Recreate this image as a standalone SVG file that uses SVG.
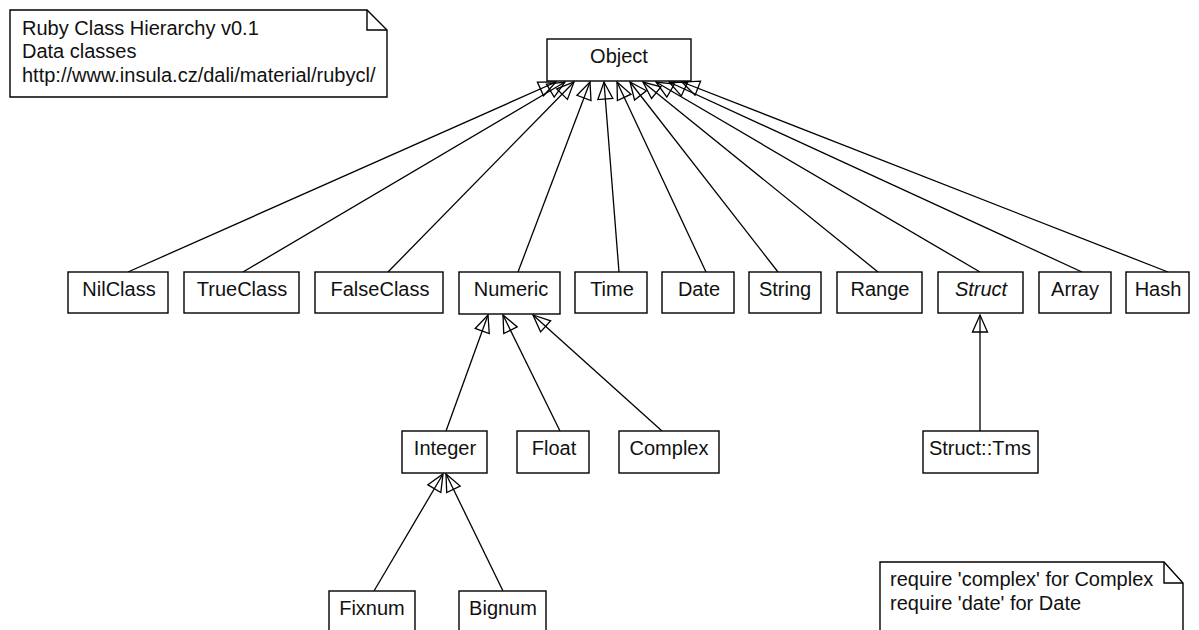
<svg xmlns="http://www.w3.org/2000/svg" width="1199" height="630" viewBox="0 0 1199 630">
<style>
.box{fill:#fff;stroke:#000;stroke-width:1.4}
.t{font-family:"Liberation Sans",Arial,sans-serif;font-size:20px;fill:#111;text-anchor:middle}
.nt{font-family:"Liberation Sans",Arial,sans-serif;font-size:20px;fill:#111}
.c line{stroke:#000;stroke-width:1.3;fill:none;marker-end:url(#gen)}
</style>
<defs>
<marker id="gen" markerUnits="userSpaceOnUse" markerWidth="20" markerHeight="18" refX="17" refY="7.5" orient="auto" overflow="visible">
<path d="M0,0 L17,7.5 L0,15 Z" fill="none" stroke="#000" stroke-width="1.3"/>
</marker>
</defs>
<rect width="1199" height="630" fill="#fff"/>
<g id="note1">
<path class="box" d="M10,10 H367 L387,30 V97 H10 Z"/>
<path d="M367,10 V30 H387" fill="none" stroke="#000" stroke-width="1.4"/>
<text class="nt" x="22" y="34.5">Ruby Class Hierarchy v0.1</text>
<text class="nt" x="22" y="58">Data classes</text>
<text class="nt" x="22" y="81.5">http://www.insula.cz/dali/material/rubycl/</text>
</g>
<g id="note2">
<path class="box" d="M880,562 H1164 L1183,583 V640 H880 Z"/>
<path d="M1164,562 V583 H1183" fill="none" stroke="#000" stroke-width="1.4"/>
<text class="nt" x="890" y="586">require 'complex' for Complex</text>
<text class="nt" x="890" y="610">require 'date' for Date</text>
</g>
<g class="c" id="connectors">
<line x1="128" y1="272" x2="556" y2="82"/>
<line x1="243" y1="272" x2="565" y2="82"/>
<line x1="388" y1="272" x2="574" y2="82"/>
<line x1="518" y1="272" x2="590" y2="82"/>
<line x1="619" y1="272" x2="604" y2="82"/>
<line x1="706" y1="272" x2="617" y2="82"/>
<line x1="778" y1="272" x2="630" y2="82"/>
<line x1="878" y1="272" x2="643" y2="82"/>
<line x1="980" y1="272" x2="656" y2="82"/>
<line x1="1082" y1="272" x2="669" y2="82"/>
<line x1="1168" y1="272" x2="682" y2="82"/>
<line x1="446" y1="431" x2="488" y2="315"/>
<line x1="560" y1="431" x2="503" y2="315"/>
<line x1="662" y1="431" x2="533" y2="315"/>
<line x1="980" y1="431" x2="980" y2="315"/>
<line x1="374" y1="591" x2="443" y2="474"/>
<line x1="503" y1="591" x2="446" y2="474"/>
</g>
<g id="Object"><rect class="box" x="547" y="39" width="144" height="42"/><text class="t" x="619" y="63">Object</text></g>
<g id="NilClass"><rect class="box" x="68" y="272" width="100" height="41"/><text class="t" x="119" y="296">NilClass</text></g>
<g id="TrueClass"><rect class="box" x="184" y="272" width="115" height="41"/><text class="t" x="242" y="296">TrueClass</text></g>
<g id="FalseClass"><rect class="box" x="315" y="272" width="128" height="41"/><text class="t" x="380" y="296">FalseClass</text></g>
<g id="Numeric"><rect class="box" x="459" y="272" width="101" height="42"/><text class="t" x="511" y="296">Numeric</text></g>
<g id="Time"><rect class="box" x="575" y="272" width="72" height="41"/><text class="t" x="612" y="296">Time</text></g>
<g id="Date"><rect class="box" x="662" y="272" width="72" height="41"/><text class="t" x="699" y="296">Date</text></g>
<g id="String"><rect class="box" x="749" y="272" width="72" height="41"/><text class="t" x="785" y="296">String</text></g>
<g id="Range"><rect class="box" x="837" y="272" width="85" height="41"/><text class="t" x="880" y="296">Range</text></g>
<g id="Struct"><rect class="box" x="938" y="272" width="85" height="41"/><text class="t" x="981" y="296" font-style="italic">Struct</text></g>
<g id="Array"><rect class="box" x="1039" y="272" width="72" height="41"/><text class="t" x="1075" y="296">Array</text></g>
<g id="Hash"><rect class="box" x="1126" y="272" width="63" height="41"/><text class="t" x="1158" y="296">Hash</text></g>
<g id="Integer"><rect class="box" x="402" y="431" width="85" height="42"/><text class="t" x="445" y="455">Integer</text></g>
<g id="Float"><rect class="box" x="517" y="431" width="72" height="42"/><text class="t" x="554" y="455">Float</text></g>
<g id="Complex"><rect class="box" x="619" y="431" width="100" height="42"/><text class="t" x="669" y="455">Complex</text></g>
<g id="StructTms"><rect class="box" x="923" y="431" width="115" height="42"/><text class="t" x="980" y="455">Struct::Tms</text></g>
<g id="Fixnum"><rect class="box" x="329" y="591" width="86" height="50"/><text class="t" x="372" y="615">Fixnum</text></g>
<g id="Bignum"><rect class="box" x="459" y="591" width="87" height="50"/><text class="t" x="503" y="615">Bignum</text></g>
</svg>
